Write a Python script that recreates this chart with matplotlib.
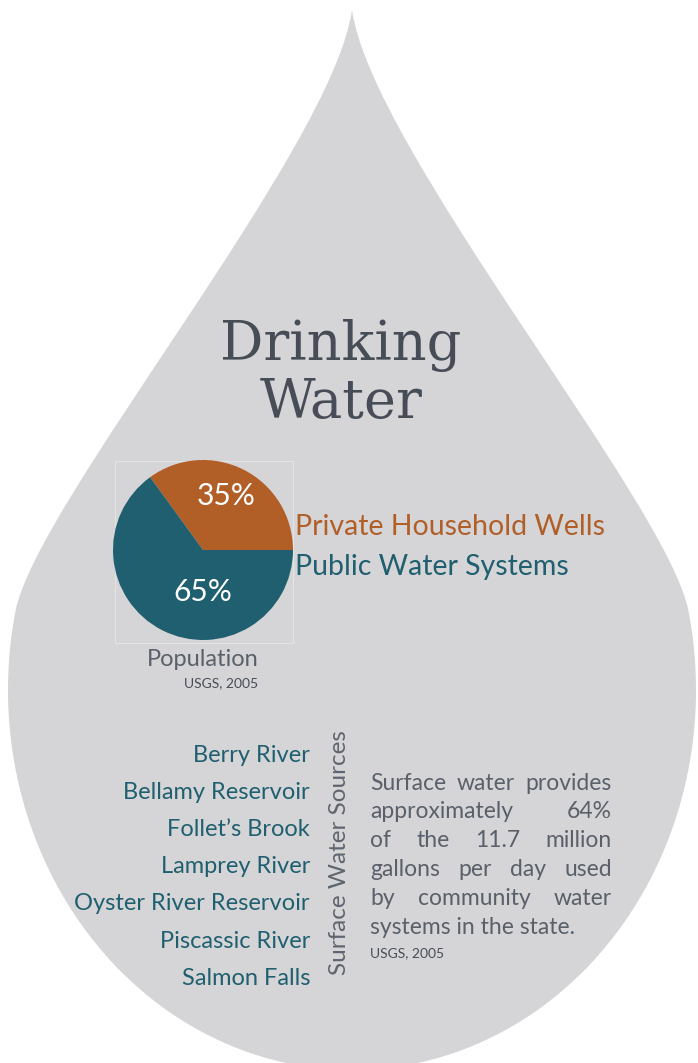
import numpy as np
import matplotlib.pyplot as plt
from matplotlib.path import Path
from matplotlib.patches import PathPatch, Rectangle

# data
shares = [35, 65]
share_labels = ['35%', '65%']
share_names = ['Private Household Wells', 'Public Water Systems']
share_colors = ['#b15e27', '#1f5f6f']
sources = ['Berry River', 'Bellamy Reservoir', "Follet\u2019s Brook", 'Lamprey River',
           'Oyster River Reservoir', 'Piscassic River', 'Salmon Falls']
para_lines = ['Surface water provides', 'approximately 64%', 'of the 11.7 million',
              'gallons per day used', 'by community water', 'systems in the state.']

W, H = 698, 1063
fig = plt.figure(figsize=(W / 100, H / 100), dpi=100)
ax = fig.add_axes([0, 0, 1, 1])
ax.set_xlim(0, W)
ax.set_ylim(H, 0)
ax.axis('off')

body = 'Lato'
teal = share_colors[1]
grey = '#5a606a'

# the drop outline: bezier tip + ellipse bottom
cx, cy, a, b = 352, 690, 344, 380
t0 = np.radians(12)
p3 = (a * np.cos(t0), b * np.sin(t0))
d = np.array([a * np.sin(t0), b * np.cos(t0)])
d = d / np.hypot(*d) * 110
p2 = (p3[0] - d[0], cy - p3[1] - d[1])
verts = [(cx, 10), (cx + 20, 150), (cx + p2[0], p2[1]), (cx + p3[0], cy - p3[1])]
codes = [Path.MOVETO, Path.CURVE4, Path.CURVE4, Path.CURVE4]
for t in np.linspace(t0, -np.pi - t0, 200)[1:]:
    verts.append((cx + a * np.cos(t), cy - b * np.sin(t)))
    codes.append(Path.LINETO)
verts += [(cx - p2[0], p2[1]), (cx - 20, 150), (cx, 10)]
codes += [Path.CURVE4] * 3
ax.add_patch(PathPatch(Path(verts, codes), facecolor='#d5d5d7', edgecolor='none', zorder=1))

# title
ax.text(341, 360, 'Drinking', family='DejaVu Serif', fontsize=39, color='#474d57',
        ha='center', va='baseline', zorder=3)
ax.text(341, 418, 'Water', family='DejaVu Serif', fontsize=39, color='#474d57',
        ha='center', va='baseline', zorder=3)

# pie in its own axes
ax.add_patch(Rectangle((115, 461), 178, 182, fill=False, edgecolor='#e4e4e6', lw=0.8, zorder=2))
pax = fig.add_axes([(203 - 90) / W, 1 - (550 + 90) / H, 180 / W, 180 / H])
wedges, _ = pax.pie(shares, colors=share_colors, startangle=0, counterclock=True,
                    wedgeprops=dict(linewidth=0))
pax.set_xlim(-1, 1)
pax.set_ylim(-1, 1)
pax.text(0.26, 0.6, share_labels[0], color='white', fontsize=21.5, family=body,
         ha='center', va='center')
pax.text(0.0, -0.47, share_labels[1], color='white', fontsize=21.5, family=body,
         ha='center', va='center')

ax.text(295, 527, share_names[0], color=share_colors[0], fontsize=20.5, family=body,
        ha='left', va='center', zorder=3)
ax.text(295, 567, share_names[1], color=share_colors[1], fontsize=20.5, family=body,
        ha='left', va='center', zorder=3)
ax.text(203, 659, 'Population', color=grey, fontsize=17, family=body,
        ha='center', va='center', zorder=3)
ax.text(221, 683, 'USGS, 2005', color='#474d57', fontsize=10, family=body,
        ha='center', va='center', zorder=3)

# surface water sources
for i, s in enumerate(sources):
    ax.text(310, 755 + i * 37.2, s, color=teal, fontsize=17, family=body,
            ha='right', va='center', zorder=3)
ax.text(340, 853, 'Surface Water Sources', color='#5f656e', fontsize=17.5, family=body,
        rotation=90, ha='center', va='center', zorder=3)

# justified paragraph
fig.canvas.draw()
r = fig.canvas.get_renderer()
x0, x1 = 370, 612
fs = 16.5
for i, line in enumerate(para_lines):
    y = 783 + i * 28.8
    words = line.split()
    if i == len(para_lines) - 1:
        ax.text(x0, y, line, color=grey, fontsize=fs, family=body,
                ha='left', va='center', zorder=3)
        continue
    arts = [ax.text(0, y, w_, color=grey, fontsize=fs, family=body,
                    ha='left', va='center', zorder=3) for w_ in words]
    widths = [a_.get_window_extent(r).width for a_ in arts]
    gap = ((x1 - x0) - sum(widths)) / (len(words) - 1)
    x = x0
    for a_, wd in zip(arts, widths):
        a_.set_x(x)
        x += wd + gap
ax.text(x0, 953, 'USGS, 2005', color='#474d57', fontsize=10, family=body,
        ha='left', va='center', zorder=3)

fig.savefig('out.png', dpi=100, facecolor='white')
